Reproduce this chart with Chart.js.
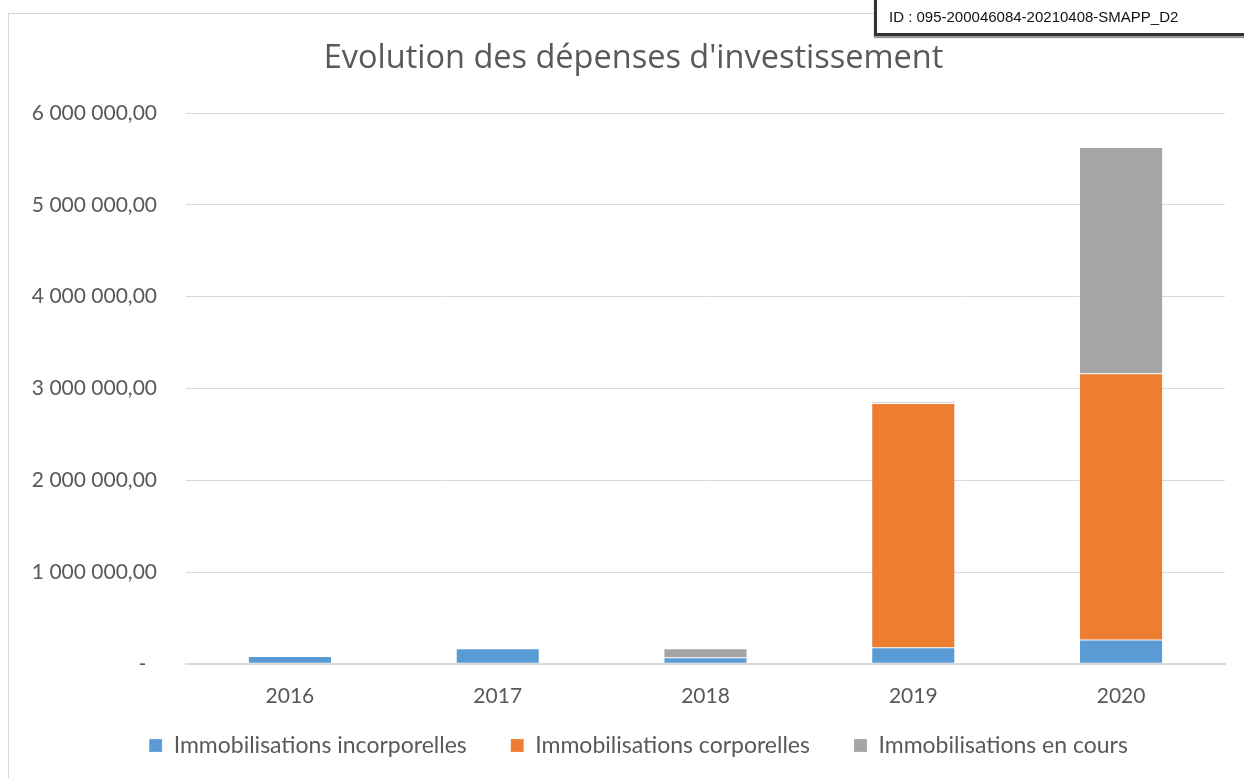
<!DOCTYPE html>
<html>
<head>
<meta charset="utf-8">
<script src="https://cdn.jsdelivr.net/npm/chart.js@4.4.0/dist/chart.umd.min.js"></script>
<style>
  html, body { margin: 0; padding: 0; background: #fff; }
  #frame { position: absolute; left: 8px; top: 13px; width: 1300px; height: 800px; border: 1px solid #d9d9d9; }
  #wrap { position: absolute; left: 0; top: 0; width: 1244px; height: 778px; }
  #idbox { position: absolute; left: 874px; top: -4px; width: 400px; height: 34px; border: 3px solid #333; background: #fff;
           font-family: "Liberation Sans", Arial, sans-serif; font-size: 15px; color: #111; line-height: 36px; padding-left: 12px;
           white-space: nowrap; box-shadow: 0 2px 1px #999; }
</style>
</head>
<body>
<div id="frame"></div>
<div id="wrap"><canvas id="chart" width="1244" height="778"></canvas></div>
<div id="idbox">ID : 095-200046084-20210408-SMAPP_D2</div>
<script>
// --- Données ---
const annees = ['2016', '2017', '2018', '2019', '2020'];
const incorporelles = [80000, 165000, 65000, 175000, 260000];
const corporelles = [0, 0, 0, 2660000, 2900000];
const enCours = [0, 0, 100000, 18000, 2465000];
const nomsSeries = ['Immobilisations incorporelles', 'Immobilisations corporelles', 'Immobilisations en cours'];

const police = 'Lato';
const gris = '#595959';

// format "6 000 000,00", zéro affiché "-"
function formatFr(v) {
    if (v === 0) return '-  ';
    const s = v.toFixed(2).split('.');
    return s[0].replace(/\B(?=(\d{3})+(?!\d))/g, ' ') + ',' + s[1];
}

// déplace titre et légende (grand écart entre items de la légende)
const decaler = {
    id: 'decaler',
    afterLayout(chart) {
        const lg = chart.legend;
        lg.top -= 39; lg.bottom -= 39;
        lg.left += 26; lg.right += 26;
        const t = chart.titleBlock;
        t.left += 21; t.right += 21;
    }
};

const ctx = document.getElementById('chart').getContext('2d');
new Chart(ctx, {
    type: 'bar',
    data: {
        labels: annees,
        datasets: [
            { label: nomsSeries[0], data: incorporelles, backgroundColor: '#5B9BD5' },
            { label: nomsSeries[1], data: corporelles, backgroundColor: '#ED7D31' },
            { label: nomsSeries[2], data: enCours, backgroundColor: '#A5A5A5' }
        ]
    },
    options: {
        responsive: false,
        animation: false,
        datasets: {
            bar: {
                barPercentage: 0.4,
                categoryPercentage: 1,
                borderColor: 'rgba(255,255,255,0.45)',
                borderWidth: 0.5,
                borderSkipped: false
            }
        },
        layout: { padding: { left: 0, right: 19, top: 0, bottom: -28 } },
        scales: {
            x: {
                stacked: true,
                grid: { display: false, drawTicks: false },
                border: { color: '#d9d9d9', width: 2 },
                ticks: { color: gris, font: { family: police, size: 21 }, padding: 20 }
            },
            y: {
                stacked: true,
                min: 0,
                max: 6000000,
                grid: { color: '#d9d9d9', drawTicks: false },
                border: { display: false },
                ticks: {
                    stepSize: 1000000,
                    color: gris,
                    font: { family: police, size: 21 },
                    padding: 29,
                    callback: (v) => formatFr(v)
                },
                afterFit: (s) => { s.width = 186; }
            }
        },
        plugins: {
            title: {
                display: true,
                text: "Evolution des dépenses d'investissement",
                color: gris,
                font: { family: 'Open Sans', size: 32.5, weight: 'normal' },
                padding: { top: 39, bottom: 35 }
            },
            legend: {
                position: 'bottom',
                labels: {
                    color: gris,
                    font: { family: police, size: 23 },
                    boxWidth: 13,
                    boxHeight: 13,
                    padding: 44
                }
            },
            tooltip: { enabled: false }
        }
    },
    plugins: [decaler]
});
</script>
</body>
</html>
